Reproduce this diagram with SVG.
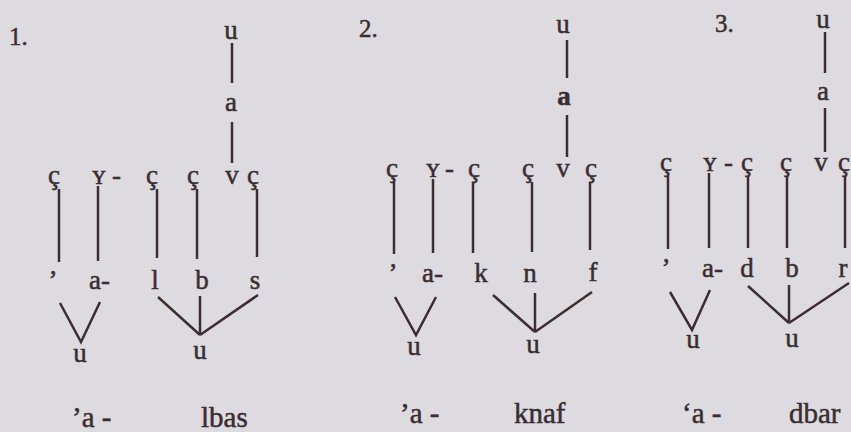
<svg xmlns="http://www.w3.org/2000/svg" width="851" height="432" viewBox="0 0 851 432">
<style>
text{font-family:"Liberation Serif","Times New Roman",serif;fill:#3a2d31;stroke:#3a2d31;stroke-width:0.5}
.l{font-size:27px}
.m{text-anchor:middle}
.w{font-size:29px}
.n{font-size:25px}
#connectors line,#connectors polyline{stroke:#3d2c32;stroke-width:2.5;fill:none;stroke-linecap:butt}
</style>
<rect width="851" height="432" fill="#dddbdf"/>
<g id="connectors">
<line x1="232" y1="43" x2="232" y2="83"/><line x1="232" y1="122" x2="232" y2="163"/>
<line x1="59" y1="189" x2="59" y2="262"/><line x1="98" y1="186" x2="98" y2="261"/>
<line x1="157" y1="189" x2="157" y2="258"/><line x1="197" y1="189" x2="197" y2="259"/>
<line x1="257" y1="189" x2="257" y2="257"/>
<polyline points="60,303 81,342 100,302"/>
<line x1="158" y1="297" x2="200" y2="335"/><line x1="200" y1="296" x2="200" y2="335"/><line x1="258" y1="295" x2="200" y2="335"/>
<line x1="567" y1="40" x2="567" y2="78"/><line x1="567" y1="115" x2="567" y2="157"/>
<line x1="394" y1="182" x2="394" y2="254"/><line x1="433" y1="179" x2="433" y2="253"/>
<line x1="473" y1="182" x2="473" y2="253"/><line x1="532" y1="182" x2="532" y2="252"/>
<line x1="590" y1="182" x2="590" y2="250"/>
<polyline points="395,297 416,335 436,297"/>
<line x1="493" y1="295" x2="535" y2="332"/><line x1="535" y1="293" x2="535" y2="332"/><line x1="592" y1="292" x2="535" y2="332"/>
<line x1="825" y1="32" x2="825" y2="73"/><line x1="825" y1="108" x2="825" y2="152"/>
<line x1="668" y1="176" x2="668" y2="249"/><line x1="709" y1="173" x2="709" y2="248"/>
<line x1="748" y1="176" x2="748" y2="248"/><line x1="787" y1="176" x2="787" y2="248"/>
<line x1="845" y1="176" x2="845" y2="248"/>
<polyline points="670,292 692,330 710,290"/>
<line x1="748" y1="286" x2="789" y2="323"/><line x1="789" y1="285" x2="789" y2="323"/><line x1="849" y1="283" x2="789" y2="323"/>
</g>
<g id="panel1">
<text id="n1" class="n" x="9" y="45">1.</text>
<g id="p1-top-u"><text class="l m" x="231" y="39">u</text></g>
<g id="p1-top-a"><text class="l m" x="231" y="111">a</text></g>
<g id="p1-row"><text class="l m" x="54" y="184">ç</text><text class="l m" x="99" y="184">ʏ</text><text class="l" x="112" y="184">-</text><text class="l m" x="152" y="184">ç</text><text class="l m" x="193" y="184">ç</text><text class="l m" x="232" y="184">v</text><text class="l m" x="253" y="184">ç</text></g>
<g id="p1-seg"><text class="l m" x="53" y="289">’</text><text class="l" x="89" y="289">a-</text><text class="l m" x="155" y="289">l</text><text class="l m" x="202" y="289">b</text><text class="l m" x="255" y="289">s</text></g>
<g id="p1-u1"><text class="l m" x="80" y="362">u</text></g>
<g id="p1-u2"><text class="l m" x="200" y="359">u</text></g>
<g id="p1-word"><text class="w" x="72" y="427">’a -</text><text class="w" x="201" y="427">lbas</text></g>
</g>
<g id="panel2">
<text id="n2" class="n" x="359" y="37">2.</text>
<g id="p2-top-u"><text class="l m" x="563" y="33">u</text></g>
<g id="p2-top-a"><text class="l m" x="564" y="105" font-weight="bold">a</text></g>
<g id="p2-row"><text class="l m" x="392" y="177">ç</text><text class="l m" x="433" y="177">ʏ</text><text class="l" x="445" y="177">-</text><text class="l m" x="474" y="177">ç</text><text class="l m" x="528" y="177">ç</text><text class="l m" x="563" y="177">v</text><text class="l m" x="591" y="177">ç</text></g>
<g id="p2-seg"><text class="l m" x="393" y="282">’</text><text class="l" x="422" y="282">a-</text><text class="l m" x="481" y="282">k</text><text class="l m" x="530" y="282">n</text><text class="l m" x="593" y="281">f</text></g>
<g id="p2-u1"><text class="l m" x="414" y="355">u</text></g>
<g id="p2-u2"><text class="l m" x="533" y="353">u</text></g>
<g id="p2-word"><text class="w" x="400" y="423">’a -</text><text class="w" x="514" y="423">knaf</text></g>
</g>
<g id="panel3">
<text id="n3" class="n" x="715" y="32">3.</text>
<g id="p3-top-u"><text class="l m" x="823" y="28">u</text></g>
<g id="p3-top-a"><text class="l m" x="823" y="100">a</text></g>
<g id="p3-row"><text class="l m" x="666" y="171">ç</text><text class="l m" x="710" y="171">ʏ</text><text class="l" x="724" y="171">-</text><text class="l m" x="747" y="171">ç</text><text class="l m" x="786" y="171">ç</text><text class="l m" x="821" y="171">v</text><text class="l m" x="844" y="171">ç</text></g>
<g id="p3-seg"><text class="l m" x="666" y="277">’</text><text class="l" x="702" y="277">a-</text><text class="l m" x="747" y="277">d</text><text class="l m" x="792" y="277">b</text><text class="l m" x="843" y="277">r</text></g>
<g id="p3-u1"><text class="l m" x="693" y="348">u</text></g>
<g id="p3-u2"><text class="l m" x="792" y="347">u</text></g>
<g id="p3-word"><text class="w" x="682" y="423">‘a -</text><text class="w" x="789" y="423">dbar</text></g>
</g>
</svg>
